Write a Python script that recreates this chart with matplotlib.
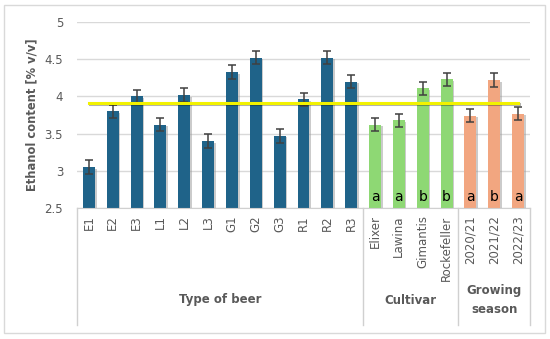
import numpy as np
import matplotlib.pyplot as plt
import matplotlib.transforms as mtransforms
import matplotlib.patheffects as pe

# ethanol content
samples = ['E1', 'E2', 'E3', 'L1', 'L2', 'L3', 'G1', 'G2', 'G3', 'R1', 'R2', 'R3',
           'Elixer', 'Lawina', 'Gimantis', 'Rockefeller',
           '2020/21', '2021/22', '2022/23']
ethanol = [3.05, 3.80, 4.00, 3.62, 4.02, 3.40, 4.33, 4.52, 3.47, 3.96, 4.52, 4.20,
           3.62, 3.68, 4.11, 4.23,
           3.74, 4.22, 3.77]
err = [0.09, 0.09, 0.09, 0.09, 0.09, 0.09, 0.09, 0.09, 0.09, 0.09, 0.09, 0.09,
       0.09, 0.09, 0.09, 0.09,
       0.09, 0.09, 0.09]
letters = ['', '', '', '', '', '', '', '', '', '', '', '',
           'a', 'a', 'b', 'b',
           'a', 'b', 'a']
groups = ['Type of beer', 'Cultivar', 'Growing\nseason']
group_sizes = [12, 4, 3]
mean_level = 3.91

colors = ['#1f6389'] * 12 + ['#8ed874'] * 4 + ['#f2a680'] * 3
gray = '#595959'

fig = plt.figure(figsize=(5.5, 3.39), dpi=100)
ax = fig.add_axes([77 / 550, 1 - 208 / 339, 453 / 550, 186 / 339])

x = np.arange(len(samples))
shadow = [pe.SimplePatchShadow(offset=(1.2, -1.2), shadow_rgbFace='#999999', alpha=0.5), pe.Normal()]
bars = ax.bar(x, ethanol, width=0.5, color=colors, bottom=0, zorder=2)
for b in bars:
    b.set_path_effects(shadow)
ax.errorbar(x, ethanol, yerr=err, fmt='none', ecolor='#404040', elinewidth=1.1,
            capsize=3, capthick=1.1, zorder=3)

# horizontal reference line
ax.plot([x[0], x[-1]], [mean_level, mean_level], color='#f2f200', lw=2.2, zorder=4,
        path_effects=[pe.SimpleLineShadow(offset=(1, -1), alpha=0.3), pe.Normal()])

# significance letters at bar bottoms
for xi, l in zip(x, letters):
    if l:
        ax.text(xi, 2.56, l, ha='center', va='bottom', fontsize=10, color='black', zorder=5)

ax.set_ylim(2.5, 5)
ax.set_xlim(-0.5, len(samples) - 0.5)
ax.set_yticks([2.5, 3, 3.5, 4, 4.5, 5])
ax.set_yticklabels(['2.5', '3', '3.5', '4', '4.5', '5'])
ax.yaxis.grid(True, color='#d9d9d9', lw=1)
ax.set_axisbelow(True)
ax.tick_params(axis='y', length=0, labelsize=8.5, labelcolor=gray, pad=10)
ax.set_xticks([])
for s in ['top', 'right', 'left']:
    ax.spines[s].set_visible(False)
ax.spines['bottom'].set_color('#d0d0d0')

ax.set_ylabel('Ethanol content [% v/v]', fontsize=8.3, color=gray, fontweight='bold')
ax.yaxis.set_label_coords((38 - 77) / 453, 0.5)

# multi-level category axis
trans = mtransforms.blended_transform_factory(ax.transData, ax.transAxes)
bottom_line = (208 - 325) / 186
for xi, s in zip(x, samples):
    ax.text(xi, -0.04, s, rotation=90, ha='center', va='top', fontsize=8.5,
            color=gray, transform=trans)
start = 0
bounds = [-0.5]
for g, n in zip(groups, group_sizes):
    center = start + (n - 1) / 2
    ax.text(center, (208 - 300) / 186, g, ha='center', va='center', fontsize=8.5,
            color=gray, fontweight='bold', transform=trans, linespacing=1.6)
    start += n
    bounds.append(start - 0.5)
for b in bounds:
    ax.plot([b, b], [0, bottom_line], color='#d0d0d0', lw=1, transform=trans, clip_on=False)

# outer frame
fig.patches.append(plt.Rectangle((4 / 550, 1 - 333 / 339), 541 / 550, 328 / 339,
                                 transform=fig.transFigure, fill=False,
                                 edgecolor='#d9d9d9', lw=1))

fig.savefig('out.png', dpi=100)
